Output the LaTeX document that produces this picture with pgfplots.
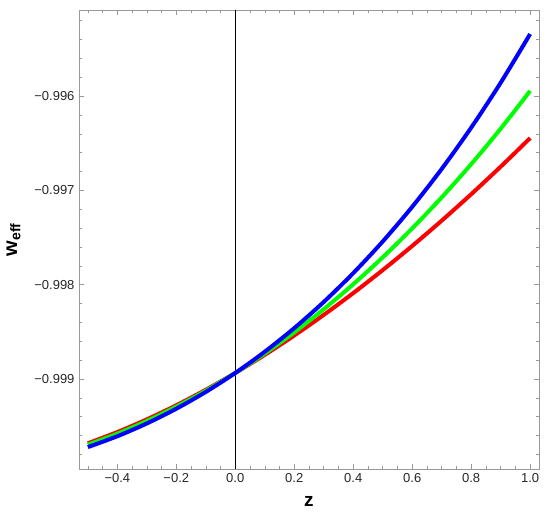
\documentclass[border=0pt]{standalone}
\usepackage{pgfplots}
\pgfplotsset{compat=1.18}
\usepackage{fontspec}
\setmainfont{Liberation Sans}
\definecolor{framegray}{gray}{0.6}
\definecolor{labgray}{gray}{0.15}
\begin{document}
\begin{tikzpicture}
\begin{axis}[
  scale only axis,
  width=460pt, height=459pt,
  xmin=-0.53, xmax=1.03,
  ymin=-0.999954, ymax=-0.995088,
  axis line style={framegray, line width=0.6pt},
  tick style={framegray, line width=0.5pt},
  tick align=inside,
  major tick length=5pt,
  minor tick length=2.8pt,
  xtick={-0.4,-0.2,0,0.2,0.4,0.6,0.8,1.0},
  xticklabels={−0.4,−0.2,0.0,0.2,0.4,0.6,0.8,1.0},
  minor xtick={-0.5,-0.45,-0.35,-0.3,-0.25,-0.15,-0.1,-0.05,0.05,0.1,0.15,0.25,0.3,0.35,0.45,0.5,0.55,0.65,0.7,0.75,0.85,0.9,0.95},
  ytick={-0.999,-0.998,-0.997,-0.996},
  yticklabels={−0.999,−0.998,−0.997,−0.996},
  minor ytick={-0.9998,-0.9996,-0.9994,-0.9992,-0.9988,-0.9986,-0.9984,-0.9982,-0.9978,-0.9976,-0.9974,-0.9972,-0.9968,-0.9966,-0.9964,-0.9962,-0.9958,-0.9956,-0.9954,-0.9952},
  scaled y ticks=false,
  ticklabel style={font=\fontsize{13}{15}\selectfont, text=labgray},
  xticklabel style={yshift=-1pt},
  yticklabel style={xshift=-1pt},
  xlabel={\textbf{z}},
  ylabel={\textbf{w}\textsubscript{\textbf{eff}}},
  xlabel style={font=\fontsize{19}{21}\selectfont, yshift=-7pt},
  ylabel style={font=\fontsize{20}{22}\selectfont, yshift=7pt},
  clip=true,
]
\addplot[black, line width=0.7pt, forget plot] coordinates {(0,-0.999954) (0,-0.995088)};
\addplot[red, line width=4pt, smooth] table {
x y
-0.5 -0.9996815
-0.4 -0.9995626
-0.3 -0.9994280
-0.2 -0.9992784
-0.1 -0.9991142
0.0 -0.9989360
0.1 -0.9987441
0.2 -0.9985388
0.3 -0.9983204
0.4 -0.9980892
0.5 -0.9978455
0.6 -0.9975894
0.7 -0.9973213
0.8 -0.9970412
0.9 -0.9967492
1.0 -0.9964457
};
\addplot[green, line width=4pt, smooth] table {
x y
-0.5 -0.9996966
-0.4 -0.9995797
-0.3 -0.9994453
-0.2 -0.9992933
-0.1 -0.9991237
0.0 -0.9989360
0.1 -0.9987299
0.2 -0.9985048
0.3 -0.9982603
0.4 -0.9979957
0.5 -0.9977105
0.6 -0.9974037
0.7 -0.9970746
0.8 -0.9967225
0.9 -0.9963464
1.0 -0.9959457
};
\addplot[blue, line width=4pt, smooth] table {
x y
-0.5 -0.9997218
-0.4 -0.9996067
-0.3 -0.9994713
-0.2 -0.9993151
-0.1 -0.9991370
0.0 -0.9989360
0.1 -0.9987110
0.2 -0.9984606
0.3 -0.9981834
0.4 -0.9978777
0.5 -0.9975421
0.6 -0.9971744
0.7 -0.9967728
0.8 -0.9963352
0.9 -0.9958593
1.0 -0.9953425
};
\end{axis}
\pgfresetboundingbox
\path (-79pt,-45pt) rectangle (471pt,469pt);
\end{tikzpicture}
\end{document}
